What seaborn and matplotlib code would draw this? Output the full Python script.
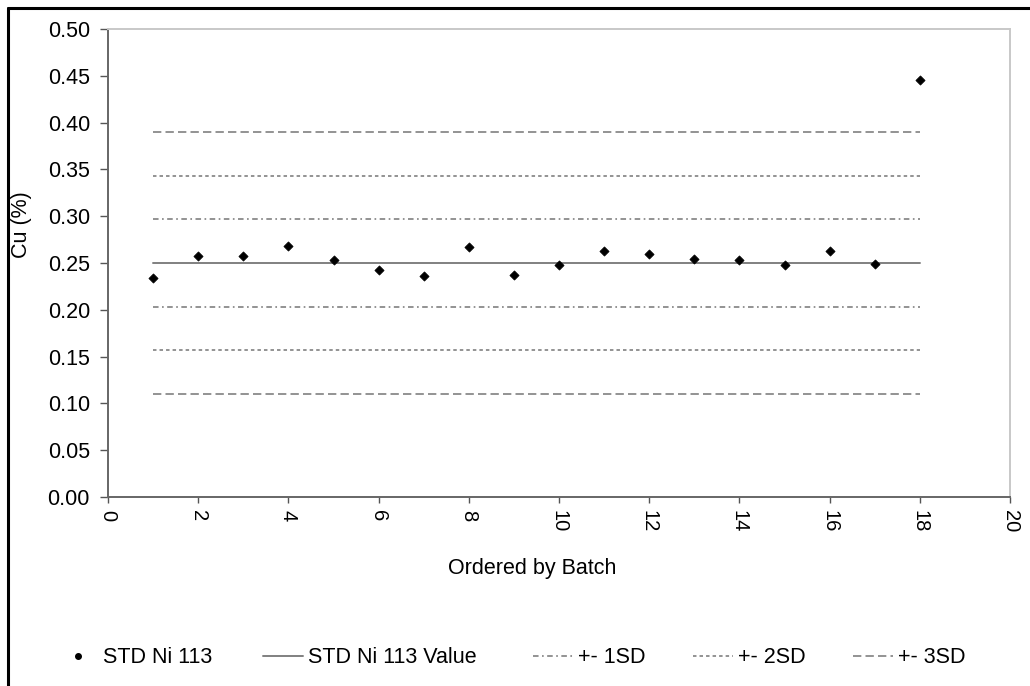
import matplotlib
matplotlib.use("Agg")
import matplotlib.pyplot as plt
import seaborn as sns
import pandas as pd
from matplotlib.lines import Line2D

# measured values per batch
batch = list(range(1, 19))
cu = [0.234, 0.258, 0.258, 0.268, 0.253, 0.243, 0.236, 0.267, 0.237,
      0.248, 0.263, 0.260, 0.254, 0.253, 0.248, 0.263, 0.249, 0.446]

# certified value and control limits
std_value = 0.250
sd_1 = [0.203, 0.297]
sd_2 = [0.157, 0.343]
sd_3 = [0.110, 0.390]
line_x = [1, 18]

legend_labels = ["STD Ni 113", "STD Ni 113 Value", "+- 1SD", "+- 2SD", "+- 3SD"]

sns.set_theme(style="white", rc={"text.color": "black", "xtick.color": "black",
                                 "ytick.color": "black", "axes.labelcolor": "black"})
plt.rcParams['font.family'] = ['Liberation Sans', 'DejaVu Sans']
plt.rcParams['lines.scale_dashes'] = False

fig = plt.figure(figsize=(10.3, 6.86), dpi=100)
ax = fig.add_axes([0.1049, 0.2755, 0.8757, 0.6822])

grey = "#808080"
df = pd.DataFrame({"batch": batch, "cu": cu})

styles = {
    "1sd": (0, (4, 2.5, 1.2, 2.5)),
    "2sd": (0, (2.5, 2.2)),
    "3sd": (0, (6, 3)),
}

# control lines
sns.lineplot(x=line_x, y=[std_value, std_value], ax=ax, color=grey, lw=1.4)
for lo_hi, key in [(sd_1, "1sd"), (sd_2, "2sd"), (sd_3, "3sd")]:
    for v in lo_hi:
        sns.lineplot(x=line_x, y=[v, v], ax=ax, color=grey, lw=1.2,
                     linestyle=styles[key])

sns.scatterplot(data=df, x="batch", y="cu", ax=ax, marker="D", s=22,
                color="black", edgecolor="black", linewidth=0.5, zorder=5)

ax.set_xlim(0, 20)
ax.set_ylim(0, 0.5)
ax.set_xticks(range(0, 21, 2))
ax.set_yticks([i * 0.05 for i in range(11)])
ax.set_yticklabels([f"{i * 0.05:.2f}" for i in range(11)])
ax.tick_params(axis="x", labelsize=14.5, length=4.5, width=1,
               color="#555555", labelcolor="black", direction="out",
               bottom=True, pad=4.5)
ax.tick_params(axis="y", labelsize=15.5, length=6, width=1,
               color="#555555", labelcolor="black", direction="out",
               left=True, pad=7)
for lbl in ax.get_xticklabels():
    lbl.set_rotation(270)
    lbl.set_va("top")
    lbl.set_ha("center")
ax.set_xlabel("")
ax.set_ylabel("")
for side in ["left", "bottom"]:
    ax.spines[side].set_color("#666666")
    ax.spines[side].set_linewidth(1.4)
for side in ["top", "right"]:
    ax.spines[side].set_color("#c8c8c8")
    ax.spines[side].set_linewidth(1.4)

fig.text(0.517, 0.172, "Ordered by Batch", fontsize=15.5, ha="center",
         va="center", color="black")
fig.text(0.021, 0.672, "Cu (%)", fontsize=15.5, rotation=90, ha="center",
         va="center", color="black")

handles = [
    Line2D([], [], marker="o", color="black", ls="none", markersize=4),
    Line2D([], [], color=grey, lw=1.4),
    Line2D([], [], color=grey, lw=1.2, ls=styles["1sd"]),
    Line2D([], [], color=grey, lw=1.2, ls=styles["2sd"]),
    Line2D([], [], color=grey, lw=1.2, ls=styles["3sd"]),
]
# Excel-style legend: each entry placed where it sits in the original
entry_x = [58, 263, 533, 693, 853]
for h, lab, px in zip(handles, legend_labels, entry_x):
    leg = fig.legend([h], [lab], loc="center left",
                     bbox_to_anchor=(px / 1030, 0.041), frameon=False,
                     fontsize=15.5, handlelength=1.86, handletextpad=0.25,
                     borderpad=0, borderaxespad=0)
    for t in leg.get_texts():
        t.set_color("black")

# outer frame (left and top edges)
fig.add_artist(Line2D([0.008, 0.008], [0, 0.989], color="black", lw=2.2,
                      transform=fig.transFigure))
fig.add_artist(Line2D([0.008, 1], [0.989, 0.989], color="black", lw=2.2,
                      transform=fig.transFigure))

fig.savefig("out.png", dpi=100)
